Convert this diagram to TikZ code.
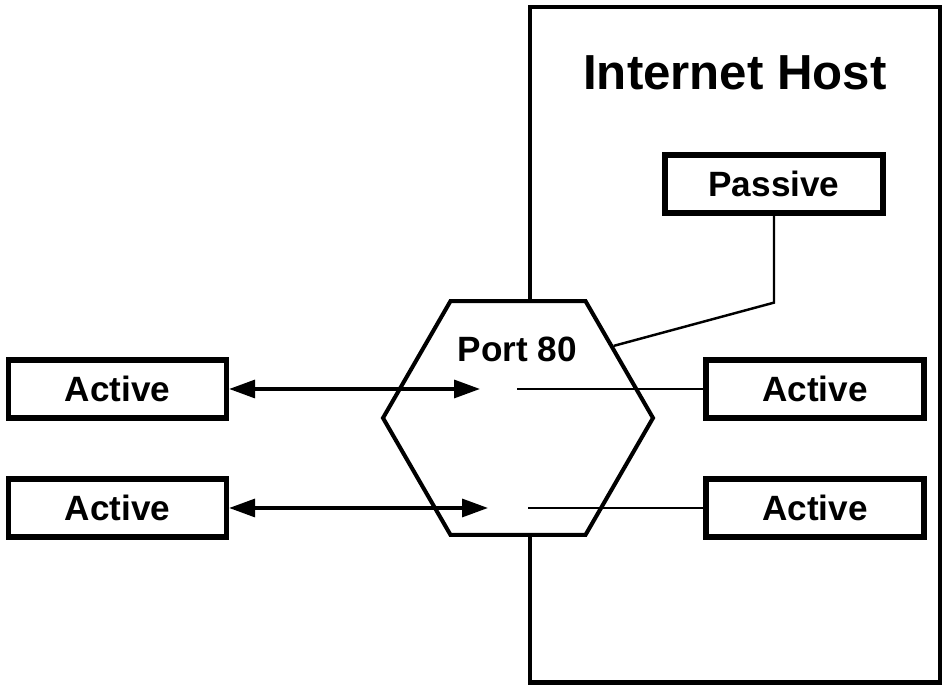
\documentclass[tikz,border=0pt]{standalone}
\usepackage{fontspec}
\setmainfont{Liberation Sans}
\usetikzlibrary{arrows.meta,shapes.geometric}

\begin{document}
\begin{tikzpicture}[>={Triangle[length=5.2mm,width=3.6mm]},
  prog/.style={draw, line width=3pt, minimum width=4.36cm, minimum height=1.16cm,
    inner sep=0pt, font=\fontsize{20}{24}\selectfont\bfseries},
  link/.style={line width=1.4pt},
  twoway/.style={<->, line width=1.9pt}]
  \useasboundingbox (0,0) rectangle (19.04,13.86);
  % ---- host ----
  \draw[line width=2.3pt] (10.60,0.21) rectangle (18.80,13.72);
  \node[font=\fontsize{28}{34}\selectfont\bfseries] (hosttitle) at (14.70,12.41) {Internet Host};
  \node[prog] (passive) at (15.48,10.18) {Passive};
  % ---- port ----
  \node[regular polygon, regular polygon sides=6, minimum size=5.4cm, inner sep=0pt,
    draw, fill=white, line width=2.3pt] (port) at (10.36,5.50) {};
  \node[font=\fontsize{20}{24}\selectfont\bfseries] (portname) at (10.35,6.87) {Port 80};
  \coordinate (in1) at (9.60,6.08);
  \coordinate (out1) at (10.34,6.08);
  \coordinate (in2) at (9.76,3.70);
  \coordinate (out2) at (10.56,3.70);
  % ---- actives ----
  \node[prog] (la1) at (2.35,6.08) {Active};
  \node[prog] (la2) at (2.35,3.70) {Active};
  \node[prog] (ra1) at (16.30,6.08) {Active};
  \node[prog] (ra2) at (16.30,3.70) {Active};
  % ---- links ----
  \draw[twoway] (la1.east) -- (in1);
  \draw[twoway] (la2.east) -- (in2);
  \draw[link] (out1) -- (ra1.west);
  \draw[link] (out2) -- (ra2.west);
  \draw[link] (passive.south) -- ++(0,-1.74) -- (port.37);
\end{tikzpicture}
\end{document}
